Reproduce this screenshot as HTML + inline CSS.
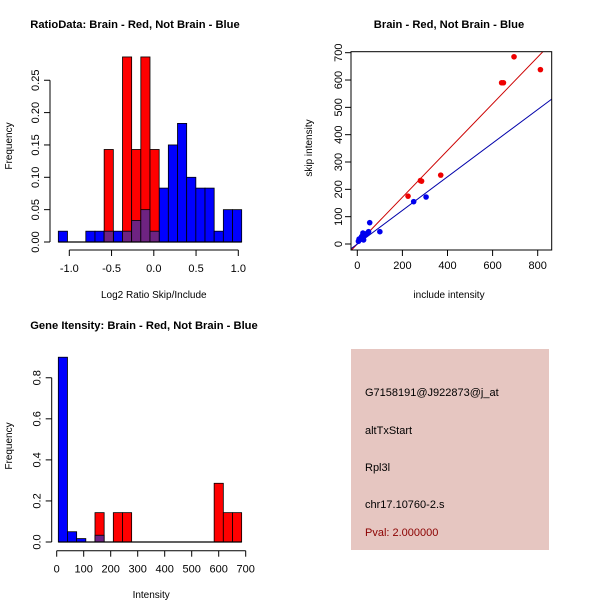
<!DOCTYPE html>
<html><head><meta charset="utf-8"><style>
body{margin:0;background:#fff;}
svg{display:block;font-family:"Liberation Sans",sans-serif;}
</style></head><body>
<svg id="s" width="600" height="600" viewBox="0 0 600 600">
<rect width="600" height="600" fill="#fff"/>
<g id="p1"></g>
<g id="p2"></g>
<g id="p3"></g>
<g>
<rect x="351" y="349" width="198" height="201" fill="#e6c6c1"/>
<text x="365" y="396" font-size="11" fill="#000">G7158191@J922873@j_at</text>
<text x="365" y="434" font-size="11" fill="#000">altTxStart</text>
<text x="365" y="471" font-size="11" fill="#000">Rpl3l</text>
<text x="365" y="508" font-size="11" fill="#000">chr17.10760-2.s</text>
<text x="365" y="536" font-size="11" fill="#8b0000">Pval: 2.000000</text>
</g>
</svg>
<script>
// Plot 1 data
const h1Start = -1.13, h1Width = 0.1085;
const h1Blue = [0.0167,0,0,0.0167,0.0167,0.0167,0.0167,0.0167,0.0333,0.05,0.0167,0.0833,0.15,0.1833,0.10,0.0833,0.0833,0.0167,0.05,0.05];
const h1Red  = [0,0,0,0,0,0.143,0,0.286,0.143,0.286,0.143,0,0,0,0,0,0,0,0,0];
const h1YTicks = [0,0.05,0.10,0.15,0.20,0.25];
const h1YLabels = ["0.00","0.05","0.10","0.15","0.20","0.25"];
const h1XTicks = [-1.0,-0.5,0.0,0.5,1.0];
const h1XLabels = ["-1.0","-0.5","0.0","0.5","1.0"];
// Plot 2 data
const redX = [225,280,285,370,640,648,695,812];
const redY = [175,232,230,252,590,590,685,638];
const blueX = [5,8,10,15,18,20,25,28,30,40,45,50,55,100,250,305];
const blueY = [10,18,15,20,25,28,40,15,30,35,40,45,78,45,155,172];
const redFit = [0, 0.855];
const blueFit = [0, 0.615];
const s2XTicks = [0,200,400,600,800];
const s2YTicks = [0,100,200,300,400,500,600,700];
// Plot 3 data
const h3Start = 6, h3Width = 33.95;
const h3Blue = [0.9,0.05,0.0167,0,0.033,0,0,0,0,0,0,0,0,0,0,0,0,0,0,0];
const h3Red  = [0,0,0,0,0.143,0,0.143,0.143,0,0,0,0,0,0,0,0,0,0.286,0.143,0.143];
const h3YTicks = [0,0.2,0.4,0.6,0.8];
const h3YLabels = ["0.0","0.2","0.4","0.6","0.8"];
const h3XTicks = [0,100,200,300,400,500,600,700];

const NS="http://www.w3.org/2000/svg";
function mk(parent,tag,attrs,txt){const e=document.createElementNS(NS,tag);for(const k in attrs)e.setAttribute(k,attrs[k]);if(txt!==undefined)e.textContent=txt;parent.appendChild(e);return e;}
const PURPLE="#6e2382";

function hist(g,start,w,blue,red,sx,sy,ax,yTicks,yLabels,xTicks,xLabels,title,titleX,xlab,xLabY){
  const n=blue.length;
  for(let i=0;i<n;i++){
    const x0=sx(start+i*w),x1=sx(start+(i+1)*w);
    const b=mk(g,'rect',{x:x0,y:sy(blue[i]),width:x1-x0,height:sy(0)-sy(blue[i]),fill:'#0000ff',stroke:'#000','stroke-width':0.8});
    
    
  }
  for(let i=0;i<n;i++){
    if(red[i]<=0)continue;
    const x0=sx(start+i*w),x1=sx(start+(i+1)*w);
    const r=mk(g,'rect',{x:x0,y:sy(red[i]),width:x1-x0,height:sy(0)-sy(red[i]),fill:'#ff0000',stroke:'#000','stroke-width':0.8});
    
    
    const m=Math.min(red[i],blue[i]);
    if(m>0){
      const p=mk(g,'rect',{x:x0,y:sy(m),width:x1-x0,height:sy(0)-sy(m),fill:PURPLE,stroke:'#000','stroke-width':0.8});
      
      
    }
  }
  const bl=mk(g,'line',{x1:sx(start),x2:sx(start+n*w),y1:sy(0),y2:sy(0),stroke:'#000','stroke-width':1.2});
  
  
  const yx=ax.yx;
  mk(g,'line',{x1:yx,x2:yx,y1:sy(yTicks[0]),y2:sy(yTicks[yTicks.length-1]),stroke:'#000'});
  yTicks.forEach((t,i)=>{
    mk(g,'line',{x1:yx-6,x2:yx,y1:sy(t),y2:sy(t),stroke:'#000'});
    const tx=mk(g,'text',{x:yx-11,y:sy(t),'font-size':11,'text-anchor':'middle',transform:`rotate(-90 ${yx-11} ${sy(t)})`},yLabels[i]);
    
    
  });
  const xy=ax.xy;
  mk(g,'line',{x1:sx(xTicks[0]),x2:sx(xTicks[xTicks.length-1]),y1:xy,y2:xy,stroke:'#000'});
  xTicks.forEach((t,i)=>{
    mk(g,'line',{x1:sx(t),x2:sx(t),y1:xy,y2:xy+6,stroke:'#000'});
    const tx=mk(g,'text',{x:sx(t),y:xy+22,'font-size':11,'text-anchor':'middle'},xLabels[i]);
    
    
  });
  const ti=mk(g,'text',{x:titleX,y:ax.titleY,'font-size':11.2,'font-weight':'bold','text-anchor':'middle'},title);
  
  
  const xl=mk(g,'text',{x:(sx(xTicks[0])+sx(xTicks[xTicks.length-1]))/2,y:xLabY,'font-size':10,'text-anchor':'middle'},xlab);
  
  
  const yl=mk(g,'text',{x:12,y:ax.ylabY,'font-size':10,'text-anchor':'middle',transform:`rotate(-90 12 ${ax.ylabY})`},'Frequency');
  
  
}

const sx1=v=>69.3+(v+1)*84.5, sy1=v=>242-v*647;
hist(document.getElementById('p1'),h1Start,h1Width,h1Blue,h1Red,sx1,sy1,{yx:50,xy:250,titleY:28,ylabY:146},h1YTicks,h1YLabels,h1XTicks,h1XLabels,'RatioData: Brain - Red, Not Brain - Blue',135,'Log2 Ratio Skip/Include',298);

const sx3=v=>56.7+v*0.27, sy3=v=>542-v*205.3;
hist(document.getElementById('p3'),h3Start,h3Width,h3Blue,h3Red,sx3,sy3,{yx:51.7,xy:550.7,titleY:329,ylabY:446},h3YTicks,h3YLabels,h3XTicks,h3XTicks.map(String),'Gene Itensity: Brain - Red, Not Brain - Blue',144,'Intensity',598);

(function(){
  const g=document.getElementById('p2');
  const sx=v=>357.3+v*0.2255, sy=v=>244-v*0.2733;
  const L=351,R=551.7,T=51.7,B=250;
  mk(g,'defs',{}).innerHTML='<clipPath id="c2"><rect x="351" y="51.7" width="200.7" height="198.3"/></clipPath>';
  [[redFit,'#cc0000'],[blueFit,'#0000aa']].forEach(([f,c],i)=>{
    const x0=(L-357.3)/0.2255,x1=(R-357.3)/0.2255;
    const l=mk(g,'line',{x1:sx(x0),y1:sy(f[0]+f[1]*x0),x2:sx(x1),y2:sy(f[0]+f[1]*x1),stroke:c,'stroke-width':1,'clip-path':'url(#c2)'});
    
    
  });
  redX.forEach((x,i)=>{const p=mk(g,'circle',{cx:sx(x),cy:sy(redY[i]),r:2.8,fill:'#ee0000'});
    
    });
  blueX.forEach((x,i)=>{const p=mk(g,'circle',{cx:sx(x),cy:sy(blueY[i]),r:2.8,fill:'#0000ee'});
    
    });
  mk(g,'rect',{x:L,y:T,width:R-L,height:B-T,fill:'none',stroke:'#000'});
  s2XTicks.forEach(t=>{mk(g,'line',{x1:sx(t),x2:sx(t),y1:B,y2:B+6,stroke:'#000'});
    const tx=mk(g,'text',{x:sx(t),y:B+19,'font-size':11,'text-anchor':'middle'},String(t));
    
    });
  s2YTicks.forEach(t=>{mk(g,'line',{x1:L-6,x2:L,y1:sy(t),y2:sy(t),stroke:'#000'});
    const tx=mk(g,'text',{x:L-9,y:sy(t),'font-size':11,'text-anchor':'middle',transform:`rotate(-90 ${L-9} ${sy(t)})`},String(t));
    
    });
  const ti=mk(g,'text',{x:449,y:28,'font-size':11.2,'font-weight':'bold','text-anchor':'middle'},'Brain - Red, Not Brain - Blue');
  
  
  const xl=mk(g,'text',{x:449,y:298,'font-size':10,'text-anchor':'middle'},'include intensity');
  
  
  const yl=mk(g,'text',{x:312,y:148,'font-size':10,'text-anchor':'middle',transform:'rotate(-90 312 148)'},'skip intensity');
  
  
})();
</script>
</body></html>
